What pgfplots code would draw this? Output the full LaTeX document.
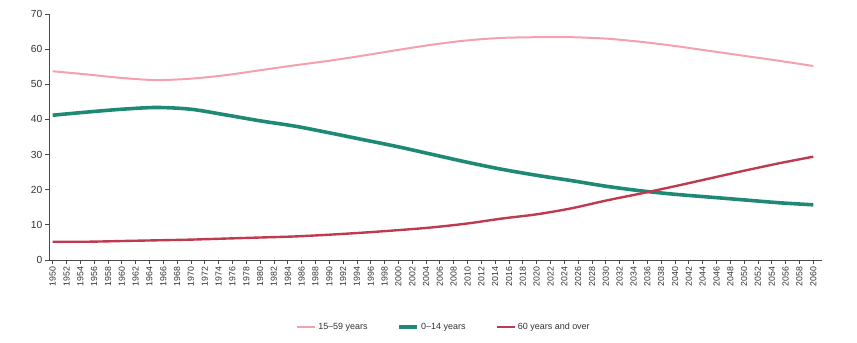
\documentclass[border=0pt]{standalone}
\usepackage{fontspec}
\setmainfont{Liberation Sans}
\usepackage{pgfplots}
\pgfplotsset{compat=1.18}
\usetikzlibrary{calc}
\definecolor{cpink}{HTML}{F4A0AE}
\definecolor{cgreen}{HTML}{1E8A76}
\definecolor{cred}{HTML}{BF3A4F}
\definecolor{caxis}{HTML}{4A4A4A}
\definecolor{ctext}{HTML}{333333}
\begin{document}
\begin{tikzpicture}
\begin{axis}[
  scale only axis,
  width=773bp, height=246bp,
  xmin=1949.47, xmax=2061.26,
  ymin=0, ymax=70,
  axis x line*=bottom, axis y line*=left,
  axis line style={caxis, line width=1pt},
  xtick={1950,1952,...,2060},
  ytick={0,10,...,70},
  tick style={caxis, line width=0.8pt},
  major tick length=4bp,
  tick align=outside,
  /pgf/number format/assume math mode=true,
  /pgf/number format/1000 sep={},
  xticklabel style={rotate=90, anchor=east, font=\fontsize{8.8}{9}\selectfont, text=ctext, inner sep=2.5pt, xshift=0bp},
  yticklabel style={font=\fontsize{10.3}{11}\selectfont, text=ctext, inner sep=2.5pt},
  legend style={draw=none, fill=none, at={(0.511,-0.272)}, anchor=center, legend columns=3,
    font=\fontsize{9}{10}\selectfont, text=ctext,
    /tikz/every even column/.append style={column sep=28bp}},
  legend image code/.code={\draw[#1] (0bp,0bp) -- (18bp,0bp);},
  clip=false,
]
\addplot[cpink, line width=2pt, smooth] coordinates {
(1950,53.7) (1955,52.8) (1960,51.8) (1965,51.2) (1970,51.6) (1975,52.6) (1980,54.0) (1985,55.4) (1990,56.7) (1995,58.2) (2000,59.8) (2005,61.3) (2010,62.5) (2015,63.2) (2020,63.4) (2025,63.4) (2030,63.0) (2035,62.1) (2040,60.9) (2045,59.5) (2050,58.1) (2055,56.7) (2060,55.2)};
\addlegendentry{15--59 years}
\addplot[cgreen, line width=3.6pt, smooth] coordinates {
(1950,41.2) (1955,42.1) (1960,42.9) (1965,43.4) (1970,42.9) (1975,41.3) (1980,39.6) (1985,38.1) (1990,36.2) (1995,34.2) (2000,32.2) (2005,30.0) (2010,27.8) (2015,25.8) (2020,24.1) (2025,22.6) (2030,21.0) (2035,19.7) (2040,18.7) (2045,17.9) (2050,17.1) (2055,16.3) (2060,15.7)};
\addlegendentry{0--14 years}
\addplot[cred, line width=2.4pt, smooth] coordinates {
(1950,5.2) (1955,5.2) (1960,5.4) (1965,5.6) (1970,5.8) (1975,6.1) (1980,6.4) (1985,6.7) (1990,7.2) (1995,7.8) (2000,8.5) (2005,9.3) (2010,10.4) (2015,11.8) (2020,13.0) (2025,14.7) (2030,16.9) (2035,18.9) (2040,21.0) (2045,23.2) (2050,25.4) (2055,27.5) (2060,29.4)};
\addlegendentry{60 years and over}
\end{axis}
\useasboundingbox ($(current axis.south west)+(-49bp,-83bp)$) rectangle ++(857bp,343bp);
\end{tikzpicture}
\end{document}
